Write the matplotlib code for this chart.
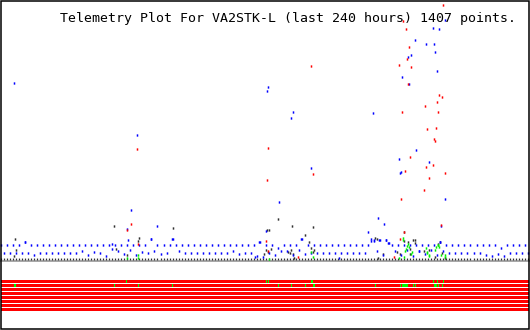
import numpy as np
import matplotlib
matplotlib.use("Agg")
import matplotlib.pyplot as plt
from matplotlib.patches import Rectangle

TITLE = "Telemetry Plot For VA2STK-L (last 240 hours) 1407 points."
HOURS = 240
SAMPLE_HOURS = 1.368

# regular telemetry samples (value 0-255 scale)
blue_row = [
    15, 7, 15, 7, 15, 7, 15, 7, 18, 7, 15, 5, 15, 7, 15, 7,
    15, 7, 15, 7, 15, 7, 15, 7, 15, 7, 15, 9, 15, 5, 15, 8,
    15, 7, 15, 4, 15, 16, 15, 9, 15, 6, 15, 10, 15, 5, 15, 8,
    15, 7, 21, 9, 15, 6, 15, 7, 15, 21, 15, 9, 15, 7, 15, 7,
    15, 7, 15, 7, 15, 7, 15, 7, 15, 7, 15, 7, 15, 9, 15, 6,
    15, 7, 15, 7, 15, 4, 18, 3, 15, 7, 15, 5, 12, 9, 15, 9,
    15, 5, 15, 10, 21, 6, 15, 7, 15, 7, 15, 7, 15, 7, 15, 7,
    15, 7, 15, 7, 15, 7, 15, 7, 15, 7, 15, 21, 19, 9, 20, 5,
    20, 17, 15, 9, 15, 5, 15, 10, 15, 4, 15, 9, 15, 6, 15, 10,
    15, 5, 18, 9, 15, 7, 15, 7, 15, 7, 15, 7, 15, 7, 15, 7,
    15, 5, 15, 4, 15, 6, 12, 4, 15, 7, 15, 7, 15, 7, 15, 7,
]
black_row = [
    1, 1, 1, 1, 1, 1, 1, 1, 1, 1, 1, 1, 1, 1, 1, 1,
    1, 1, 1, 1, 1, 1, 1, 1, 1, 1, 1, 1, 1, 1, 1, 1,
    1, 1, 1, 1, 1, 1, 1, 1, 1, 1, 1, 1, 1, 1, 1, 1,
    1, 1, 1, 1, 1, 1, 1, 1, 1, 1, 1, 1, 1, 1, 1, 1,
    1, 1, 1, 1, 1, 1, 1, 1, 1, 1, 1, 1, 1, 1, 1, 1,
    1, 1, 1, 1, 1, 1, 1, 1, 1, 1, 1, 1, 1, 1, 1, 1,
    1, 1, 1, 1, 1, 1, 1, 1, 1, 1, 1, 1, 1, 1, 1, 1,
    1, 1, 1, 1, 1, 1, 1, 1, 1, 1, 1, 1, 1, 1, 1, 1,
    1, 1, 1, 1, 1, 1, 1, 1, 1, 1, 1, 1, 1, 1, 1, 1,
    1, 1, 1, 1, 1, 1, 1, 1, 1, 1, 1, 1, 1, 1, 1, 1,
    1, 1, 1, 1, 1, 1, 1, 1, 1, 1, 1, 1, 1, 1, 1, 1,
]

# irregular samples (hours, value)
blue_t = [5.9, 57.1, 57.9, 59.2, 62.0, 68.3, 71.0, 77.9, 10.9, 50.5, 115.6, 117.4,
          120.6, 121.0, 121.5, 126.5, 132.0, 132.9, 136.5, 141.0, 153.8, 167.0,
          169.2, 171.5, 174.2, 168.3, 169.5, 172.0, 175.0, 176.0, 181.0, 181.5,
          182.0, 182.4, 185.2, 185.6, 186.5, 188.3, 188.8, 189.9, 193.3, 194.7,
          196.5, 197.0, 197.4, 198.3, 199.2, 199.5, 200.1, 201.7, 202.0]
blue_v = [177, 31, 20, 50, 125, 21, 34, 21, 18, 11, 3, 18,
          29, 169, 173, 58, 142, 148, 21, 92, 2, 28,
          147, 42, 36, 19, 20, 20, 20, 17, 101, 87,
          88, 183, 203, 176, 205, 220, 110, 9, 216, 98,
          232, 216, 208, 189, 231, 18, 34, 240, 61]

red_t = [59.2, 62.0, 57.3, 62.4, 120.6, 121.0, 121.5, 121.5, 135.1, 141.0, 142.0,
         178.8, 181.4, 181.0, 182.0, 182.4, 182.9, 183.3, 183.8, 184.2, 184.7,
         185.1, 185.6, 186.0, 186.5, 192.4, 192.9, 193.3, 193.8, 194.7, 196.5,
         197.0, 197.4, 197.9, 198.3, 198.8, 199.2, 200.1, 200.6, 201.0, 202.0]
red_v = [36, 111, 30, 16, 19, 80, 112, 9, 3, 194, 86,
         3, 21, 195, 61, 148, 239, 28, 89, 231, 201,
         176, 213, 103, 193, 70, 154, 93, 131, 82, 95,
         121, 119, 132, 158, 148, 165, 35, 163, 255, 87]

black_t = [6.5, 6.8, 6.0, 51.5, 52.1, 62.9, 62.4, 57.3, 78.3, 122.0, 121.0,
           126.0, 132.4, 138.3, 142.0, 132.9, 119.7, 120.5, 121.5, 122.6,
           130.6, 132.0, 131.5, 141.0, 142.4, 141.7, 140.2, 133.3, 183.3,
           183.2, 185.2, 187.4, 188.3, 198.8, 199.5, 173.8, 171.5, 170.2,
           171.0, 192.3, 194.5, 179.9, 181.4, 185.9, 197.3, 200.3, 201.8,
           185.9, 188.2]
black_v = [21, 10, 4, 34, 11, 22, 19, 5, 32, 30, 30,
           41, 34, 25, 33, 6, 6, 10, 8, 11,
           8, 10, 7, 12, 10, 8, 18, 2, 28,
           19, 18, 20, 17, 16, 18, 6, 2, 22,
           21, 9, 10, 8, 6, 6, 3, 7, 2,
           11, 20]

green_t = [182.9, 183.6, 184.7, 185.5, 183.9, 186.7, 186.4, 193.5, 194.7, 193.0,
           197.4, 198.5, 199.2, 201.8, 200.0, 180.9, 183.3, 141.9, 121.9, 141.0,
           62.4, 62.4, 57.4, 182.9, 184.9, 198.8, 197.8, 194.7, 201.8, 193.5]
green_v = [20, 9, 14, 13, 11, 8, 6, 7, 4, 12,
           10, 15, 13, 3, 5, 2, 3, 3, 1, 8,
           5, 2, 2, 22, 16, 15, 13, 5, 5, 8]

bits = [0, 1, 2, 3, 4, 5, 6, 7]
bit0_t = [57.1, 120.5, 121.4, 141.0, 141.7, 196.5, 198.3, 201.1]
bit1_t = [6.2, 6.7, 51.5, 62.4, 77.9, 126.0, 132.0, 138.3, 142.0, 142.4, 170.2,
          181.5, 182.6, 183.0, 183.5, 183.9, 184.4, 184.9, 187.4, 188.3, 196.9,
          197.4, 197.9, 199.0, 200.5]

W, H = 530, 330
fig = plt.figure(figsize=(W / 100, H / 100), dpi=100)
fig.patch.set_facecolor("white")

ax = fig.add_axes([1 / W, (H - 262) / H, 528 / W, 257 / H])
ax.set_xlim(0, HOURS)
ax.set_ylim(-2, 255)
ax.axis("off")

# small vertical dash marker: ~1.5 px wide, ~2.3 px tall
rect = [(-0.33, -0.5), (0.33, -0.5), (0.33, 0.5), (-0.33, 0.5), (-0.33, -0.5)]
MS = (2.3 * 0.72) ** 2
row_t = np.arange(len(blue_row)) * SAMPLE_HOURS


def dots(t, v, color, size=MS, z=3):
    ax.scatter(t, v, s=size, marker=rect, c=color, linewidths=0,
               clip_on=False, zorder=z, snap=False)


ax.axhline(-1, color="#a8a8a8", lw=1.44, clip_on=False, zorder=1)
dots(row_t, black_row, "#303030", size=(1.9 * 0.72) ** 2, z=2)
dots(black_t, black_v, "#303030", z=2)
dots(row_t, blue_row, "#0000ff", z=3)
dots(blue_t, blue_v, "#0000ff", z=3)
dots(red_t, red_v, "#ff0000", z=4)
dots(green_t, green_v, "#00ee00", z=5)

bx = fig.add_axes([1 / W, (H - 312) / H, 528 / W, 32 / H])
bx.set_xlim(0, HOURS)
bx.set_ylim(8, 0)
bx.axis("off")
bx.barh(bits, [HOURS] * len(bits), left=0, height=0.75, align="edge", color="#ff0000", linewidth=0)
bx.bar(bit0_t, 0.75, bottom=0, width=0.5, color="#00ff00", linewidth=0)
bx.bar(bit1_t, 0.75, bottom=1, width=0.5, color="#00ff00", linewidth=0)

fig.text(60 / W, 1 - 22.3 / H, TITLE, ha="left", va="baseline",
         fontsize=9.5, family="DejaVu Sans Mono", color="black")

fig.add_artist(Rectangle((0.75 / W, 0.75 / H), (W - 1.5) / W, (H - 1.5) / H,
                         transform=fig.transFigure, fill=False, ec="black", lw=1.1))

fig.savefig("out.png", dpi=100)
